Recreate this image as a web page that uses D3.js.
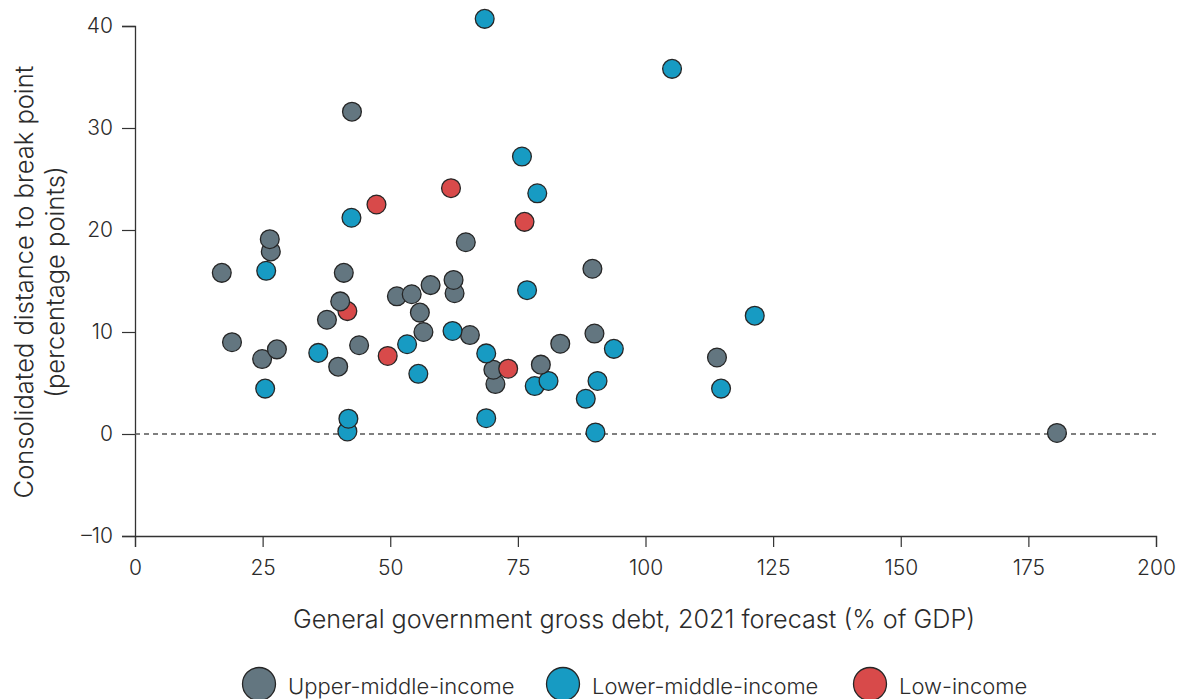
<!DOCTYPE html>
<html>
<head>
<meta charset="utf-8">
<script src="https://cdn.jsdelivr.net/npm/d3@7"></script>
<style>
  html, body { margin: 0; padding: 0; background: #fff; }
  svg { display: block; font-family: Inter, sans-serif; font-weight: 300; }
</style>
</head>
<body>
<svg id="chart" width="1178" height="699"></svg>
<script>
// ---- Data ----
const seriesNames = ["Upper-middle-income", "Lower-middle-income", "Low-income"];

const upperMiddleDebt = [17.0, 19.0, 26.4, 26.6, 24.9, 27.8, 40.9, 40.2, 37.6, 39.8, 42.5, 43.9, 51.3, 54.2, 57.9, 55.8, 56.5, 62.4, 62.6, 64.8, 65.6, 70.2, 70.6, 79.5, 83.3, 89.6, 90.0, 114.0, 180.6];
const upperMiddleDist = [15.8, 9.0, 19.1, 17.9, 7.35, 8.3, 15.8, 13.0, 11.2, 6.6, 31.6, 8.7, 13.5, 13.7, 14.6, 11.9, 10.0, 15.1, 13.8, 18.8, 9.7, 6.3, 4.9, 6.8, 8.85, 16.2, 9.85, 7.5, 0.1];

const lowerMiddleDebt = [68.5, 75.8, 42.4, 25.7, 25.5, 35.9, 41.8, 41.6, 53.3, 55.5, 62.2, 68.8, 68.8, 78.8, 76.8, 78.3, 81.0, 88.3, 90.6, 90.2, 93.8, 105.2, 114.8, 121.4];
const lowerMiddleDist = [40.7, 27.2, 21.2, 16.0, 4.45, 7.95, 1.5, 0.25, 8.8, 5.9, 10.1, 7.9, 1.55, 23.6, 14.1, 4.7, 5.2, 3.45, 5.2, 0.15, 8.35, 35.8, 4.45, 11.6];

const lowDebt = [47.3, 61.9, 41.6, 49.5, 76.3, 73.1];
const lowDist = [22.5, 24.1, 12.05, 7.65, 20.8, 6.4];

const xTicks = [0, 25, 50, 75, 100, 125, 150, 175, 200];
const yTicks = [-10, 0, 10, 20, 30, 40];

const xTitle = "General government gross debt, 2021 forecast (% of GDP)";
const yTitleLines = ["Consolidated distance to break point", "(percentage points)"];

// ---- Styles ----
const colors = ["#637680", "#179bc3", "#d84a4a"];
const textColor = "#2b2b2b";

const svg = d3.select("#chart");

const x = d3.scaleLinear().domain([0, 200]).range([135, 1156]);
const y = d3.scaleLinear().domain([-10, 40]).range([536, 26]);

// Axes
const xAxis = d3.axisBottom(x).tickValues(xTicks).tickSize(11).tickPadding(13).tickFormat(d3.format("d"));
const yAxis = d3.axisLeft(y).tickValues(yTicks).tickSize(13).tickPadding(9)
  .tickFormat(d => d < 0 ? "\u2013" + Math.abs(d) : String(d));

const gx = svg.append("g").attr("transform", `translate(0,${y(-10)})`).call(xAxis);
const gy = svg.append("g").attr("transform", `translate(${x(0)},0)`).call(yAxis);

[gx, gy].forEach(g => {
  g.select(".domain").attr("stroke", "#333").attr("stroke-width", 1.3);
  g.selectAll(".tick line").attr("stroke", "#333").attr("stroke-width", 1.2);
  g.selectAll(".tick text").attr("fill", textColor)
    .style("font-size", "21px").style("font-family", "Inter, sans-serif").style("font-weight", 300);
});

// Zero reference line
svg.append("line")
  .attr("x1", x(0)).attr("x2", x(200))
  .attr("y1", y(0)).attr("y2", y(0))
  .attr("stroke", "#555").attr("stroke-width", 1.3)
  .attr("stroke-dasharray", "5,4");

// Points
const points = [];
upperMiddleDebt.forEach((d, i) => points.push({ x: d, y: upperMiddleDist[i], s: 0 }));
lowerMiddleDebt.forEach((d, i) => points.push({ x: d, y: lowerMiddleDist[i], s: 1 }));
lowDebt.forEach((d, i) => points.push({ x: d, y: lowDist[i], s: 2 }));
points.sort((a, b) => a.y - b.y);

svg.append("g").selectAll("circle").data(points).join("circle")
  .attr("cx", d => x(d.x))
  .attr("cy", d => y(d.y))
  .attr("r", 9.4)
  .attr("fill", d => colors[d.s])
  .attr("stroke", "#262626")
  .attr("stroke-width", 1.3);

// Axis titles
svg.append("text")
  .attr("x", 634).attr("y", 628)
  .attr("text-anchor", "middle")
  .attr("fill", textColor)
  .style("font-size", "25.2px")
  .text(xTitle);

const yt = svg.append("text")
  .attr("transform", "translate(0,282) rotate(-90)")
  .attr("text-anchor", "middle")
  .attr("fill", textColor)
  .style("font-size", "25.5px");
yt.append("tspan").attr("x", 0).attr("y", 33).text(yTitleLines[0]);
yt.append("tspan").attr("x", 0).attr("y", 64).text(yTitleLines[1]);

// Legend
const legendX = [259, 563, 870];
const lg = svg.append("g");
seriesNames.forEach((name, i) => {
  lg.append("circle")
    .attr("cx", legendX[i]).attr("cy", 684).attr("r", 16.5)
    .attr("fill", colors[i]).attr("stroke", "#262626").attr("stroke-width", 1.3);
  lg.append("text")
    .attr("x", legendX[i] + 29).attr("y", 694)
    .attr("fill", textColor)
    .style("font-size", "22px")
    .text(name);
});
</script>
</body>
</html>
